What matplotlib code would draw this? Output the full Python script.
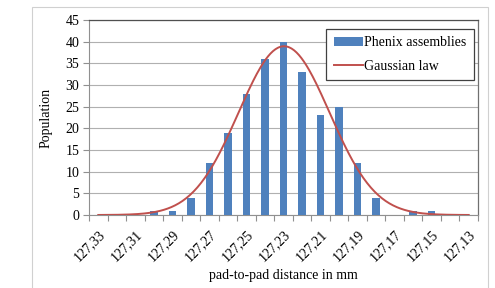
import numpy as np
import matplotlib.pyplot as plt
from matplotlib.patches import Rectangle

# pad-to-pad distance classes (mm), from 127.33 down to 127.13
distances = [127.33, 127.32, 127.31, 127.30, 127.29, 127.28, 127.27, 127.26,
             127.25, 127.24, 127.23, 127.22, 127.21, 127.20, 127.19, 127.18,
             127.17, 127.16, 127.15, 127.14, 127.13]
population = [0, 0, 0, 1, 1, 4, 12, 19, 28, 36, 40, 33, 23, 25, 12, 4,
              0, 1, 1, 0, 0]

plt.rcParams['font.family'] = ['Liberation Serif', 'DejaVu Serif']

pos = np.arange(len(distances))
counts = np.array(population, dtype=float)

# gaussian law fitted on the histogram (mean, sigma, total count)
n_tot = counts.sum()
mu = (pos * counts).sum() / n_tot
sigma = np.sqrt((counts * (pos - mu) ** 2).sum() / n_tot)
xs = np.linspace(pos[0], pos[-1], 300)
gauss = n_tot / (sigma * np.sqrt(2 * np.pi)) * np.exp(-0.5 * ((xs - mu) / sigma) ** 2)

fig = plt.figure(figsize=(4.95, 2.88), dpi=100)
fig.patches.append(Rectangle((32 / 495, -0.1), (488 - 32) / 495, 1.1 - 7 / 288,
                             transform=fig.transFigure, fill=False,
                             edgecolor='#d0d0d0', linewidth=0.8))
ax = fig.add_axes([89 / 495, 1 - 215 / 288, (478 - 89) / 495, (215 - 20) / 288])

bars = ax.bar(pos, counts, width=0.4, color='#4f81bd', label='Phenix assemblies', zorder=3)
line, = ax.plot(xs, gauss, color='#c0504d', linewidth=1.4, label='Gaussian law', zorder=4)

ax.set_xlim(-0.5, len(distances) - 0.5)
ax.set_ylim(0, 45)
ax.set_yticks(range(0, 46, 5))
ax.yaxis.grid(True, color='#b0b0b0', linewidth=0.8, zorder=0)

ax.set_xticks(pos[::2])
ax.set_xticklabels([('%.2f' % d).replace('.', ',') for d in distances[::2]],
                   rotation=45, ha='right', rotation_mode='anchor', fontsize=10)
ax.set_xticks(np.arange(-0.5, len(distances), 1), minor=True)
ax.tick_params(axis='x', which='major', length=0, pad=9)
ax.tick_params(axis='x', which='minor', length=4, color='#909090', width=0.8)
ax.tick_params(axis='y', length=4, color='#909090', width=0.8, labelsize=10, pad=3)

for side in ['left', 'bottom']:
    ax.spines[side].set_color('#909090')
    ax.spines[side].set_linewidth(0.8)
ax.spines['top'].set_color('#505050')
ax.spines['right'].set_color('#707070')
ax.spines['top'].set_linewidth(0.9)
ax.spines['right'].set_linewidth(0.9)

ax.set_ylabel('Population', fontsize=10, labelpad=9)
ax.set_xlabel('pad-to-pad distance in mm', fontsize=10, labelpad=4)

leg = ax.legend([bars, line], ['Phenix assemblies', 'Gaussian law'],
                loc='upper right', bbox_to_anchor=(0.99, 0.955), fontsize=10,
                fancybox=False, framealpha=1, edgecolor='#404040',
                handlelength=2.1, handleheight=0.55, handletextpad=0.1,
                borderpad=0.55, labelspacing=0.75, borderaxespad=0)
leg.get_frame().set_linewidth(0.9)

plt.savefig('out.png', dpi=100)
